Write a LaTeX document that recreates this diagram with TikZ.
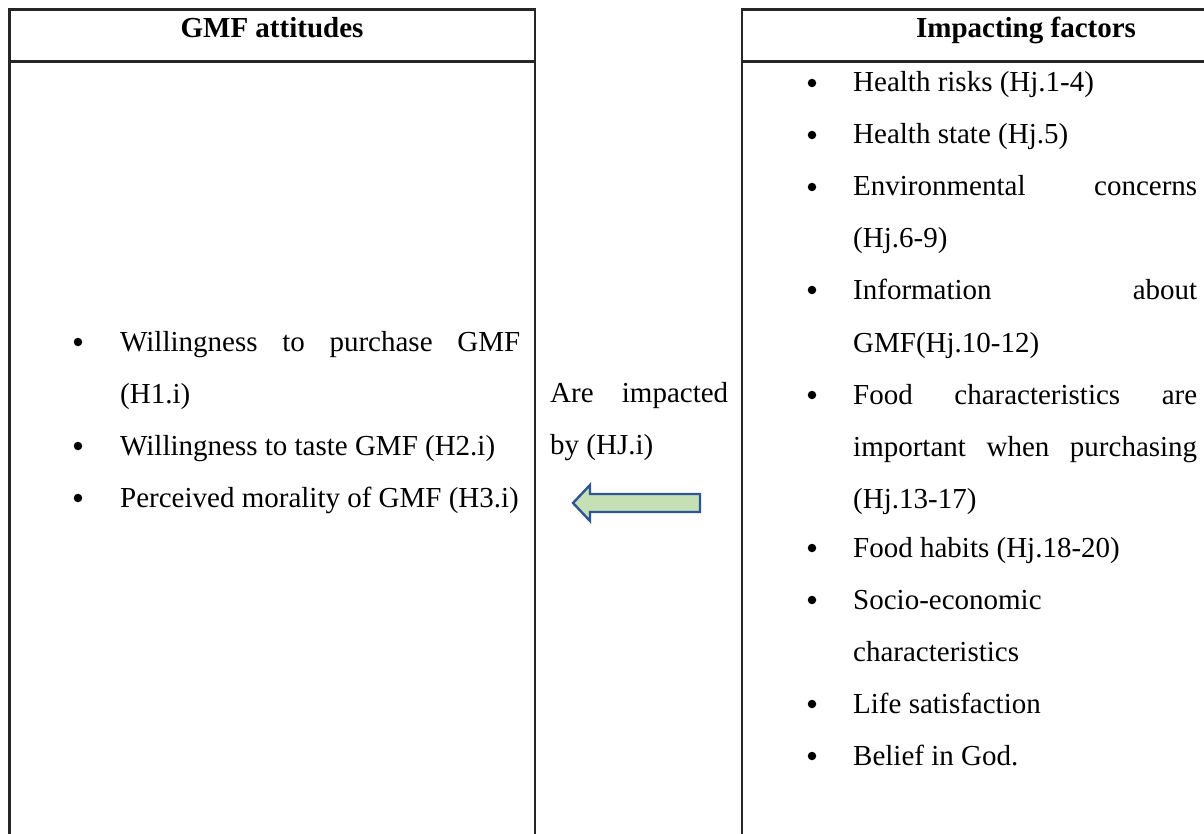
\documentclass[tikz,border=0pt]{standalone}
\usepackage{fontspec}
\setmainfont{Liberation Serif}
\definecolor{arrowfill}{HTML}{C5E0B4}
\definecolor{arrowline}{HTML}{2F5597}
\begin{document}
\begin{tikzpicture}[x=1pt,y=-1pt,
  frame/.style={draw=black!85,line width=2.2pt},
  head/.style={font=\fontsize{29}{34}\selectfont\bfseries,inner sep=0pt,anchor=base},
  item/.style={font=\fontsize{29}{34}\selectfont,inner sep=0pt,anchor=base west},
  dot/.style={circle,fill=black,inner sep=0pt,minimum size=8.5pt}]
\useasboundingbox (0,0) rectangle (1204,834);
\clip (0,0) rectangle (1204,834);

% two table columns with header rows
\draw[frame] (9.5,9.5) rectangle (535,900);
\draw[frame] (9.5,61.5) -- (535,61.5);
\draw[frame] (742,9.5) rectangle (1320,900);
\draw[frame] (742,61.5) -- (1320,61.5);

\node[head] (hleft) at (272,38) {GMF attitudes};
\node[head] (hright) at (1026,38) {Impacting factors};

% left column: attitudes
\node[dot] (lb1) at (78,342) {};
\node[item] (l1a) at (120,351) {\makebox[400pt][s]{Willingness to purchase GMF}};
\node[item] (l1b) at (120,403) {(H1.i)};
\node[dot] (lb2) at (78,446) {};
\node[item] (l2) at (120,455) {Willingness to taste GMF (H2.i)};
\node[dot] (lb3) at (78,498) {};
\node[item] (l3) at (120,507) {Perceived morality of GMF (H3.i)};

% middle label and arrow
\node[item] (m1) at (550,402) {\makebox[178pt][s]{Are impacted}};
\node[item] (m2) at (550,454) {by (HJ.i)};
\draw[draw=arrowline,fill=arrowfill,line width=2.4pt,line join=miter]
  (573,503) -- (590,485) -- (590,494) -- (700,494) -- (700,512)
  -- (590,512) -- (590,521) -- cycle;

% right column: impacting factors
\node[dot] (rb1) at (812,83) {};
\node[item] (r1) at (853,92) {Health risks (Hj.1-4)};
\node[dot] (rb2) at (812,135) {};
\node[item] (r2) at (853,144) {Health state (Hj.5)};
\node[dot] (rb3) at (812,187) {};
\node[item] (r3a) at (853,196) {\makebox[344pt][s]{Environmental concerns}};
\node[item] (r3b) at (853,248) {(Hj.6-9)};
\node[dot] (rb4) at (812,290) {};
\node[item] (r4a) at (853,299) {\makebox[344pt][s]{Information about}};
\node[item] (r4b) at (853,352) {GMF(Hj.10-12)};
\node[dot] (rb5) at (812,395) {};
\node[item] (r5a) at (853,404) {\makebox[344pt][s]{Food characteristics are}};
\node[item] (r5b) at (853,456) {\makebox[344pt][s]{important when purchasing}};
\node[item] (r5c) at (853,508) {(Hj.13-17)};
\node[dot] (rb6) at (812,548) {};
\node[item] (r6) at (853,557) {Food habits (Hj.18-20)};
\node[dot] (rb7) at (812,600) {};
\node[item] (r7a) at (853,609) {Socio-economic};
\node[item] (r7b) at (853,661) {characteristics};
\node[dot] (rb8) at (812,704) {};
\node[item] (r8) at (853,713) {Life satisfaction};
\node[dot] (rb9) at (812,756) {};
\node[item] (r9) at (853,765) {Belief in God.};
\end{tikzpicture}
\end{document}
